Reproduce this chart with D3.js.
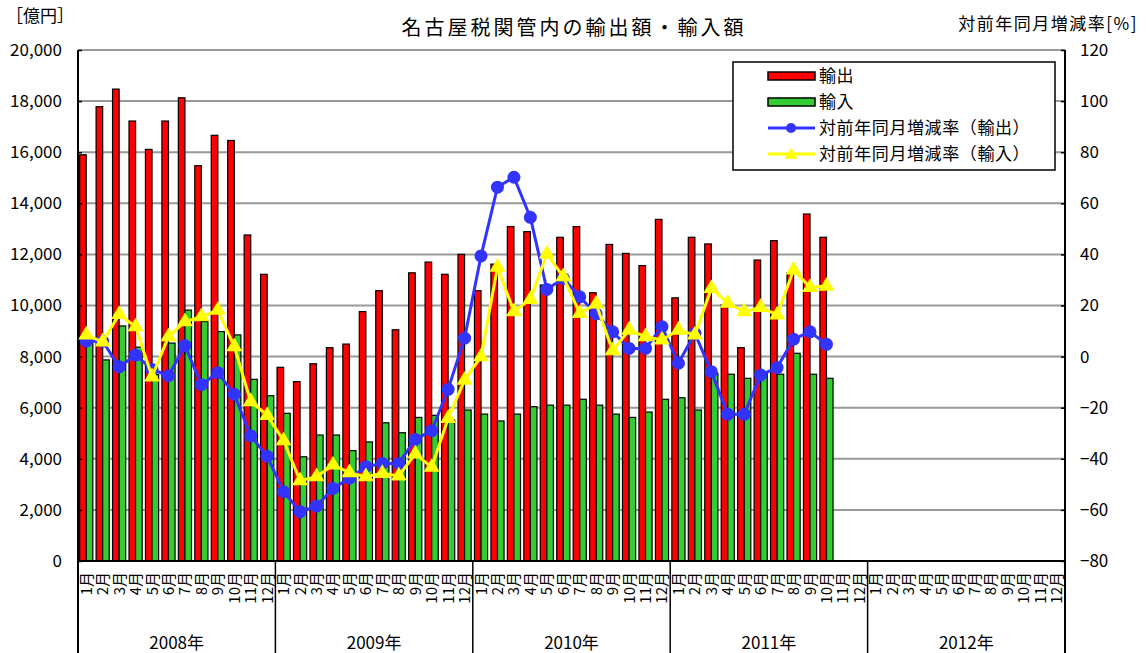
<!DOCTYPE html>
<html>
  <head>
    <meta charset="utf-8">
    <style>
      body { margin: 0; background: white; }
      svg text { font-family: "Noto Sans CJK JP", "Noto Sans", sans-serif; fill: #000; }
    </style>
  </head>
  <body>
    <script src="https://cdn.jsdelivr.net/npm/d3@7"></script>
    <script>
      // months shown on the axis (2008-2012) and the data (Jan 2008 - Oct 2011)
      var years = ["2008年", "2009年", "2010年", "2011年", "2012年"];
      var monthLabels = ["1月", "2月", "3月", "4月", "5月", "6月", "7月", "8月", "9月", "10月", "11月", "12月"];

      var exportVals = [
        15900, 17780, 18470, 17220, 16110, 17220, 18130, 15470, 16660, 16460, 12760, 11220,
        7580, 7020, 7720, 8350, 8490, 9760, 10580, 9050, 11280, 11700, 11220, 12000,
        10580, 11620, 13090, 12890, 10800, 12670, 13090, 10500, 12390, 12040, 11560, 13370,
        10300, 12670, 12410, 10020, 8350, 11780, 12540, 11280, 13580, 12670
      ];
      var importVals = [
        8650, 7870, 9200, 8370, 7300, 8530, 9820, 9370, 8980, 8850, 7110, 6470,
        5780, 4080, 4930, 4930, 4320, 4660, 5410, 5020, 5620, 5700, 5520, 5910,
        5750, 5480, 5750, 6040, 6100, 6100, 6330, 6100, 5750, 5620, 5830, 6330,
        6390, 5910, 7350, 7310, 7150, 7350, 7310, 8130, 7310, 7150
      ];
      var exportYoY = [
        6, 6, -4, 0.6, -5, -7.5, 4.3, -11, -6.3, -14.8, -31, -39,
        -52.9, -60.7, -58.5, -51.6, -47.6, -43.1, -41.8, -41.8, -32.4, -29, -12.8, 7.2,
        39.4, 66.3, 70.2, 54.5, 26.3, 30.6, 23.4, 16.7, 9.7, 3.2, 3.2, 11.7,
        -2.6, 9.1, -5.9, -22.6, -22.6, -7.2, -4.3, 6.8, 9.7, 4.8
      ];
      var importYoY = [
        8.5, 5.8, 16.5, 11.7, -7.9, 7.8, 13.7, 15.6, 18.2, 3.9, -17.6, -23,
        -32.9, -48.6, -47, -42.4, -45.4, -47, -45.7, -46.7, -38.1, -43.3, -24.2, -9.2,
        0, 35, 17.6, 22.4, 40.2, 31.3, 16.9, 20.6, 2.3, 10.4, 7.8, 6.5,
        10.4, 8.5, 26.7, 20.9, 17.6, 19.3, 16.3, 33.9, 27.1, 27.6
      ];
      var leftTicks = [0, 2000, 4000, 6000, 8000, 10000, 12000, 14000, 16000, 18000, 20000];
      var rightTicks = [-80, -60, -40, -20, 0, 20, 40, 60, 80, 100, 120];

      var width = 1146, height = 653;
      var margin = { top: 50, right: 81, bottom: 92, left: 78 };
      var plotW = width - margin.left - margin.right,
          plotH = height - margin.top - margin.bottom;

      var svg = d3.select("body").append("svg")
          .attr("width", width)
          .attr("height", height);

      var g = svg.append("g").attr("transform", "translate(" + margin.left + "," + margin.top + ")");

      var months = d3.range(years.length * 12);
      var x = d3.scaleBand().domain(months).range([0, plotW]).paddingInner(0.2).paddingOuter(0.1);
      var xs = d3.scaleBand().domain(["ex", "im"]).range([0, x.bandwidth()]);
      var yL = d3.scaleLinear().domain([0, 20000]).range([plotH, 0]);
      var yR = d3.scaleLinear().domain([-80, 120]).range([plotH, 0]);
      var cx = function (i) { return x(i) + x.bandwidth() / 2; };

      // gridlines
      g.append("g").selectAll("line")
        .data(leftTicks.filter(function (d) { return d > 0; }))
        .enter().append("line")
        .attr("x1", 0).attr("x2", plotW)
        .attr("y1", function (d) { return yL(d); })
        .attr("y2", function (d) { return yL(d); })
        .attr("stroke", "#999")
        .attr("stroke-width", 2);

      // bars
      var bars = g.append("g");
      bars.selectAll(".ex").data(exportVals).enter().append("rect")
        .attr("x", function (d, i) { return x(i) + xs("ex"); })
        .attr("y", function (d) { return yL(d); })
        .attr("width", xs.bandwidth())
        .attr("height", function (d) { return plotH - yL(d); })
        .attr("fill", "#ff0000").attr("stroke", "#000").attr("stroke-width", 1.2);
      bars.selectAll(".im").data(importVals).enter().append("rect")
        .attr("x", function (d, i) { return x(i) + xs("im"); })
        .attr("y", function (d) { return yL(d); })
        .attr("width", xs.bandwidth())
        .attr("height", function (d) { return plotH - yL(d); })
        .attr("fill", "#33cc33").attr("stroke", "#000").attr("stroke-width", 1.2);

      // axes
      var axL = g.append("g").call(d3.axisLeft(yL).tickValues(leftTicks).tickSize(-4).tickPadding(16)
          .tickFormat(d3.format(",")));
      var axR = g.append("g").attr("transform", "translate(" + plotW + ",0)")
          .call(d3.axisRight(yR).tickValues(rightTicks).tickSize(-4).tickPadding(15)
          .tickFormat(function (d) { return d < 0 ? "\u2212" + Math.abs(d) : d; }));
      [axL, axR].forEach(function (a) {
        a.select(".domain").remove();
        a.selectAll("line").attr("stroke", "#000").attr("stroke-width", 1.5);
        a.selectAll("text").style("font-size", "17px");
      });

      // plot frame lines (left/right extend down through the category area)
      g.append("line").attr("x1", 0).attr("x2", 0).attr("y1", 0).attr("y2", height - margin.top)
        .attr("stroke", "#000").attr("stroke-width", 2);
      g.append("line").attr("x1", plotW).attr("x2", plotW).attr("y1", 0).attr("y2", height - margin.top)
        .attr("stroke", "#000").attr("stroke-width", 2);
      g.append("line").attr("x1", 0).attr("x2", plotW).attr("y1", plotH).attr("y2", plotH)
        .attr("stroke", "#000").attr("stroke-width", 2);

      // year separators
      g.append("g").selectAll("line").data(d3.range(1, years.length)).enter().append("line")
        .attr("x1", function (d) { return plotW * d / years.length; })
        .attr("x2", function (d) { return plotW * d / years.length; })
        .attr("y1", plotH).attr("y2", height - margin.top)
        .attr("stroke", "#000").attr("stroke-width", 1.5);

      // month labels (rotated)
      g.append("g").selectAll("text").data(months).enter().append("text")
        .attr("transform", function (d) { return "translate(" + (cx(d) + 5.5) + "," + (plotH + 11) + ") rotate(-90)"; })
        .attr("text-anchor", "end")
        .style("font-size", "15px")
        .text(function (d) { return monthLabels[d % 12]; });

      // year labels
      g.append("g").selectAll("text").data(years).enter().append("text")
        .attr("x", function (d, i) { return plotW * (i + 0.5) / years.length; })
        .attr("y", plotH + 88)
        .attr("text-anchor", "middle")
        .style("font-size", "17px")
        .text(function (d) { return d; });

      // lines
      var lineEx = d3.line().x(function (d, i) { return cx(i); }).y(function (d) { return yR(d); });
      g.append("path").datum(exportYoY).attr("d", lineEx)
        .attr("fill", "none").attr("stroke", "#3333ff").attr("stroke-width", 3);
      g.append("g").selectAll("circle").data(exportYoY).enter().append("circle")
        .attr("cx", function (d, i) { return cx(i); })
        .attr("cy", function (d) { return yR(d); })
        .attr("r", 6.5).attr("fill", "#3333ff");

      g.append("path").datum(importYoY).attr("d", lineEx)
        .attr("fill", "none").attr("stroke", "#ffff00").attr("stroke-width", 3);
      var tri = d3.symbol().type(d3.symbolTriangle).size(110);
      g.append("g").selectAll("path").data(importYoY).enter().append("path")
        .attr("d", tri)
        .attr("transform", function (d, i) { return "translate(" + cx(i) + "," + yR(d) + ")"; })
        .attr("fill", "#ffff00");

      // titles
      svg.append("text").attr("x", 574).attr("y", 35).attr("text-anchor", "middle")
        .style("font-size", "20px").style("letter-spacing", "3px").text("名古屋税関管内の輸出額・輸入額");
      svg.append("text").attr("x", 6).attr("y", 22).style("font-size", "17px").text("［億円］");
      svg.append("text").attr("x", 1138).attr("y", 30).attr("text-anchor", "end")
        .style("font-size", "17px").style("letter-spacing", "1.5px").text("対前年同月増減率[%]");

      // legend
      var lg = svg.append("g").attr("transform", "translate(733,62)");
      lg.append("rect").attr("width", 322).attr("height", 108)
        .attr("fill", "white").attr("stroke", "#000").attr("stroke-width", 1.5);
      var items = [
        { label: "輸出", type: "bar", color: "#ff0000" },
        { label: "輸入", type: "bar", color: "#33cc33" },
        { label: "対前年同月増減率（輸出）", type: "circle", color: "#3333ff" },
        { label: "対前年同月増減率（輸入）", type: "tri", color: "#ffff00" }
      ];
      items.forEach(function (it, i) {
        var yy = 14 + i * 26;
        if (it.type === "bar") {
          lg.append("rect").attr("x", 35).attr("y", yy - 4).attr("width", 47).attr("height", 8)
            .attr("fill", it.color).attr("stroke", "#000").attr("stroke-width", 1.5);
        } else {
          lg.append("line").attr("x1", 35).attr("x2", 82).attr("y1", yy).attr("y2", yy)
            .attr("stroke", it.color).attr("stroke-width", 3);
          if (it.type === "circle") {
            lg.append("circle").attr("cx", 58).attr("cy", yy).attr("r", 5).attr("fill", it.color);
          } else {
            lg.append("path").attr("d", d3.symbol().type(d3.symbolTriangle).size(70))
              .attr("transform", "translate(58," + (yy + 1) + ")").attr("fill", it.color);
          }
        }
        lg.append("text").attr("x", 86).attr("y", yy + 6).style("font-size", "17px")
          .style("letter-spacing", "0.6px").text(it.label);
      });
    </script>
  </body>
</html>
